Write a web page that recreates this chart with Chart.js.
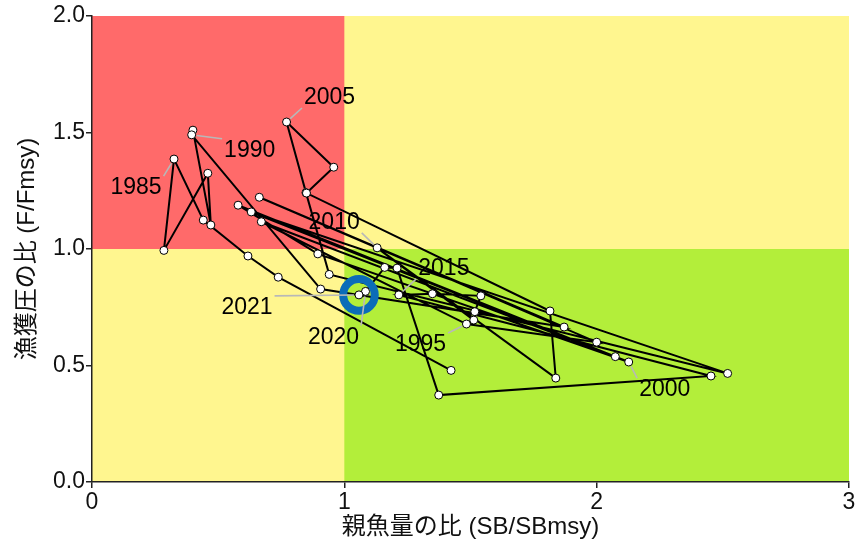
<!DOCTYPE html>
<html>
<head>
<meta charset="utf-8">
<script src="https://cdn.jsdelivr.net/npm/chart.js@4.4.1/dist/chart.umd.min.js"></script>
<style>
  html, body { margin: 0; padding: 0; background: #fff; }
  #kobe { display: block; }
</style>
</head>
<body>
<canvas id="kobe" width="855" height="550"></canvas>
<script>
// 年ごとの親魚量比と漁獲圧比
var years = [1981, 1982, 1983, 1984, 1985, 1986, 1987, 1988, 1989, 1990,
  1991, 1992, 1993, 1994, 1995, 1996, 1997, 1998, 1999, 2000,
  2001, 2002, 2003, 2004, 2005, 2006, 2007, 2008, 2009, 2010,
  2011, 2012, 2013, 2014, 2015, 2016, 2017, 2018, 2019, 2020, 2021];
var sbRatio = [1.423, 0.738, 0.618, 0.441, 0.325, 0.285, 0.459, 0.471, 0.400, 0.395,
  0.906, 1.871, 0.663, 2.000, 1.484, 0.671, 2.074, 0.579, 0.895, 2.127,
  0.631, 2.519, 0.940, 0.848, 0.771, 0.958, 0.850, 1.815, 1.838, 1.130,
  1.513, 1.517, 1.541, 1.349, 1.216, 2.453, 1.374, 1.209, 1.160, 1.084, 1.058];
var fRatio = [0.479, 0.879, 0.970, 1.124, 1.386, 0.994, 1.325, 1.103, 1.510, 1.490,
  0.828, 0.665, 1.222, 0.600, 0.678, 1.117, 0.538, 1.188, 0.979, 0.515,
  1.159, 0.466, 0.891, 1.242, 1.545, 1.351, 1.240, 0.734, 0.446, 1.005,
  0.695, 0.731, 0.799, 0.808, 0.803, 0.455, 0.373, 0.918, 0.921, 0.818, 0.803];
var labelYears = [1985, 1990, 1995, 2000, 2005, 2010, 2015, 2020, 2021];
var xTicks = [0, 1, 2, 3];
var yTicks = [0, 0.5, 1, 1.5, 2];

// ラベル文字の位置 (点からのずれ, px)
var labelOffsets = {
  1985: [-38, 28], 1990: [58, 15], 1995: [-46, 20], 2000: [36, 27],
  2005: [43, -25], 2010: [-43, -26], 2015: [45, -27], 2020: [-32, 45], 2021: [-112, 12]
};

var zonePlugin = {
  id: "zones",
  beforeDraw: function (chart) {
    var ctx = chart.ctx, sx = chart.scales.x, sy = chart.scales.y;
    var x0 = sx.getPixelForValue(0), x1 = sx.getPixelForValue(1), x3 = sx.getPixelForValue(3);
    var y0 = sy.getPixelForValue(0), y1 = sy.getPixelForValue(1), y2 = sy.getPixelForValue(2);
    ctx.save();
    ctx.fillStyle = "#fff68f";
    ctx.fillRect(x0, y2, x3 - x0, y0 - y2);
    ctx.fillStyle = "#ff6a6a";
    ctx.fillRect(x0, y2, x1 - x0, y1 - y2);
    ctx.fillStyle = "#b3ee3a";
    ctx.fillRect(x1, y1, x3 - x1, y0 - y1);
    ctx.restore();
  }
};

var yearLabelPlugin = {
  id: "yearLabels",
  afterDatasetsDraw: function (chart) {
    var ctx = chart.ctx;
    var meta = chart.getDatasetMeta(0);
    ctx.save();
    ctx.font = "23px 'Liberation Sans', Arial, sans-serif";
    ctx.textAlign = "center";
    ctx.textBaseline = "middle";
    labelYears.forEach(function (yr) {
      var i = years.indexOf(yr);
      var pt = meta.data[i];
      var off = labelOffsets[yr];
      var cx = pt.x + off[0], cy = pt.y + off[1];
      var w = ctx.measureText(String(yr)).width, h = 18;
      var bx = Math.min(Math.max(pt.x, cx - w / 2 - 2), cx + w / 2 + 2);
      var by = Math.min(Math.max(pt.y, cy - h / 2 - 2), cy + h / 2 + 2);
      var dx = bx - pt.x, dy = by - pt.y, d = Math.sqrt(dx * dx + dy * dy);
      if (d > 8) {
        ctx.strokeStyle = "#b8b8b8";
        ctx.lineWidth = 1.6;
        ctx.beginPath();
        ctx.moveTo(pt.x + dx / d * 5, pt.y + dy / d * 5);
        ctx.lineTo(bx, by);
        ctx.stroke();
      }
      ctx.fillStyle = "#000";
      ctx.fillText(String(yr), cx, cy + 1);
    });
    ctx.restore();
  }
};

var points = years.map(function (yr, i) { return { x: sbRatio[i], y: fRatio[i] }; });
var last = points.length - 1;
var axisFont = { family: "'Liberation Sans', 'Noto Sans CJK JP', sans-serif", size: 23 };
var titleFont = { family: "'Liberation Sans', 'Noto Sans CJK JP', sans-serif", size: 24 };
function noPad(s) { s.getPadding = function () { return { left: 0, top: 0, right: 0, bottom: 0 }; }; }

new Chart(document.getElementById("kobe").getContext("2d"), {
  type: "scatter",
  data: {
    datasets: [
      {
        data: points,
        showLine: true,
        borderColor: "#000",
        borderWidth: 2,
        pointRadius: 4,
        pointBorderWidth: 1,
        pointBorderColor: "#000",
        pointBackgroundColor: "#fff",
        tension: 0,
        order: 1
      },
      {
        data: [points[last]],
        pointRadius: 15.8,
        pointBorderWidth: 8,
        pointBorderColor: "#0b6cb8",
        pointBackgroundColor: "rgba(0,0,0,0)",
        order: 0
      }
    ]
  },
  options: {
    responsive: false,
    animation: false,
    devicePixelRatio: 1,
    layout: { autoPadding: false, padding: { top: 16, right: 6, left: 0, bottom: 0 } },
    plugins: { legend: { display: false }, tooltip: { enabled: false } },
    scales: {
      x: {
        type: "linear", min: 0, max: 3,
        afterBuildTicks: function (s) { s.ticks = xTicks.map(function (v) { return { value: v }; }); },
        afterFit: function (s) { s.height = 68; noPad(s); },
        ticks: { font: axisFont, color: "#111", padding: 1, maxRotation: 0,
          callback: function (v) { return String(v); } },
        grid: { drawOnChartArea: false, drawTicks: true, tickLength: 6, color: "#222", lineWidth: 1.5 },
        border: { display: true, color: "#222", width: 1.5 },
        title: { display: true, text: "親魚量の比 (SB/SBmsy)", font: titleFont, color: "#111",
          padding: { top: 0, bottom: 8 } }
      },
      y: {
        type: "linear", min: 0, max: 2,
        afterBuildTicks: function (s) { s.ticks = yTicks.map(function (v) { return { value: v }; }); },
        afterFit: function (s) { s.width = 92; noPad(s); },
        ticks: { font: axisFont, color: "#111", padding: 1,
          callback: function (v) { return v.toFixed(1); } },
        grid: { drawOnChartArea: false, drawTicks: true, tickLength: 6, color: "#222", lineWidth: 1.5 },
        border: { display: true, color: "#222", width: 1.5 },
        title: { display: true, text: "漁獲圧の比 (F/Fmsy)", font: titleFont, color: "#111",
          padding: { top: 13, bottom: 0 } }
      }
    }
  },
  plugins: [zonePlugin, yearLabelPlugin]
});
</script>
</body>
</html>
